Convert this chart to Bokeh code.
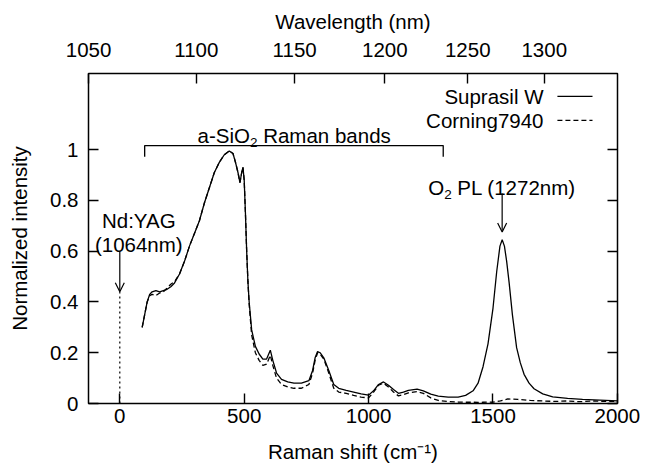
from bokeh.plotting import figure
from bokeh.models import (LinearAxis, FixedTicker, CustomJSTickFormatter, Range1d,
                          Arrow, OpenHead)
from bokeh.embed import file_html
from bokeh.resources import INLINE
from bokeh.core.properties import value

# ---------------- data ----------------
LASER_NM = 1064.0


def nm_to_shift(nm):
    return 1e7 / LASER_NM - 1e7 / nm


suprasil_shift = [90, 100, 110, 120, 130, 145, 160, 175, 190, 205, 220, 240, 260, 280, 300,
                  320, 340, 360, 380, 400, 420, 440, 455, 465, 475, 483, 490, 495, 500, 505,
                  510, 515, 520, 530, 545, 560, 575, 590, 605, 615, 630, 650, 675, 700, 730,
                  760, 775, 785, 795, 805, 820, 840, 860, 880, 910, 940, 970, 1000, 1020,
                  1040, 1060, 1080, 1100, 1120, 1140, 1160, 1195, 1220, 1250, 1280, 1320,
                  1360, 1390, 1420, 1440, 1460, 1480, 1500, 1515, 1528, 1537, 1546, 1555,
                  1565, 1578, 1595, 1610, 1625, 1645, 1665, 1700, 1740, 1800, 1860, 1930, 2000]
suprasil_int = [0.30, 0.35, 0.40, 0.43, 0.44, 0.445, 0.44, 0.445, 0.45, 0.46, 0.475, 0.51,
                0.56, 0.62, 0.67, 0.72, 0.79, 0.85, 0.91, 0.95, 0.98, 0.995, 0.985, 0.95,
                0.91, 0.87, 0.91, 0.93, 0.88, 0.75, 0.60, 0.48, 0.40, 0.29, 0.225, 0.195,
                0.175, 0.175, 0.21, 0.17, 0.12, 0.095, 0.085, 0.08, 0.08, 0.09, 0.13, 0.18,
                0.205, 0.20, 0.18, 0.13, 0.075, 0.06, 0.052, 0.045, 0.038, 0.033, 0.05,
                0.075, 0.085, 0.072, 0.055, 0.04, 0.045, 0.052, 0.057, 0.05, 0.037, 0.029,
                0.025, 0.025, 0.032, 0.05, 0.08, 0.145, 0.235, 0.375, 0.52, 0.62, 0.645,
                0.62, 0.56, 0.475, 0.35, 0.22, 0.16, 0.115, 0.08, 0.058, 0.038, 0.026, 0.02,
                0.016, 0.013, 0.01]

corning_shift = [90, 100, 110, 120, 130, 145, 160, 175, 190, 205, 220, 240, 260, 280, 300,
                 320, 340, 360, 380, 400, 420, 440, 455, 465, 475, 483, 490, 495, 500, 505,
                 510, 515, 520, 530, 545, 560, 575, 590, 605, 615, 630, 650, 675, 700, 730,
                 760, 775, 785, 795, 805, 820, 840, 860, 880, 910, 940, 970, 1000, 1020,
                 1040, 1060, 1080, 1100, 1120, 1140, 1160, 1195, 1220, 1250, 1280, 1320,
                 1360, 1390, 1420, 1440, 1460, 1480, 1500, 1530, 1560, 1600, 1650, 1700,
                 1750, 1800, 1850, 1900, 1950, 2000]
corning_int = [0.30, 0.35, 0.40, 0.425, 0.43, 0.425, 0.435, 0.44, 0.455, 0.47, 0.48, 0.51,
               0.56, 0.62, 0.67, 0.72, 0.79, 0.85, 0.91, 0.95, 0.98, 0.995, 0.985, 0.95,
               0.91, 0.87, 0.91, 0.93, 0.88, 0.75, 0.60, 0.48, 0.39, 0.27, 0.20, 0.17,
               0.15, 0.155, 0.19, 0.15, 0.10, 0.075, 0.065, 0.06, 0.06, 0.075, 0.12, 0.17,
               0.20, 0.195, 0.175, 0.12, 0.06, 0.045, 0.04, 0.032, 0.025, 0.022, 0.045,
               0.072, 0.08, 0.065, 0.045, 0.03, 0.035, 0.042, 0.047, 0.04, 0.022, 0.012,
               0.008, 0.006, 0.005, 0.005, 0.004, 0.005, 0.006, 0.005, 0.01, 0.018, 0.016,
               0.012, 0.01, 0.008, 0.01, 0.007, 0.01, 0.008, 0.009]

x_ticks = [0, 500, 1000, 1500, 2000]
y_ticks = [0, 0.2, 0.4, 0.6, 0.8, 1.0]
wl_ticks = [1050, 1100, 1150, 1200, 1250, 1300]
band_start, band_end = 100, 1300          # a-SiO2 Raman bands bracket
nd_yag_nm = 1064
o2_pl_nm = 1272
series_names = ["Suprasil W", "Corning7940"]

# ---------------- style ----------------
FONT = "Liberation Sans"
FS = "20.5px"
SUB_FS = "13.5px"

x_start = nm_to_shift(wl_ticks[0]) - 0.5
p = figure(width=646, height=469, output_backend="svg", toolbar_location=None,
           x_range=Range1d(x_start, 2000.5), y_range=Range1d(0, 1.3),
           min_border_left=88, min_border_right=29, min_border_top=73,
           min_border_bottom=66,
           x_axis_label="Raman shift (cm⁻¹)", y_axis_label="Normalized intensity")
p.background_fill_color = "white"
p.border_fill_color = "white"
p.outline_line_color = "black"
p.outline_line_width = 1.5
p.grid.visible = False


def style_axis(ax):
    ax.axis_line_color = None
    ax.major_tick_in = 10
    ax.major_tick_out = 0
    ax.major_tick_line_width = 1.4
    ax.major_tick_line_color = "black"
    ax.minor_tick_line_color = None
    ax.major_label_text_font = FONT
    ax.major_label_text_font_size = FS
    ax.major_label_text_color = "black"
    ax.axis_label_text_font = FONT
    ax.axis_label_text_font_size = FS
    ax.axis_label_text_font_style = "normal"
    ax.axis_label_text_color = "black"


xa = p.xaxis[0]
style_axis(xa)
xa.ticker = FixedTicker(ticks=x_ticks)
xa.major_label_standoff = 5
xa.axis_label_standoff = 14

ya = p.yaxis[0]
style_axis(ya)
ya.ticker = FixedTicker(ticks=y_ticks)
ya.formatter = CustomJSTickFormatter(code="return String(Math.round(tick*10)/10);")
ya.major_label_standoff = 10
ya.axis_label_standoff = 16

top = LinearAxis(axis_label="Wavelength (nm)",
                 ticker=FixedTicker(ticks=[nm_to_shift(w) for w in wl_ticks]),
                 formatter=CustomJSTickFormatter(args=dict(laser=LASER_NM),
                                                 code="return (1e7/(1e7/laser - tick)).toFixed(0);"))
style_axis(top)
top.major_label_standoff = 17
top.axis_label_standoff = 7
p.add_layout(top, "above")

right = LinearAxis(ticker=FixedTicker(ticks=y_ticks),
                   formatter=CustomJSTickFormatter(code="return '';"))
style_axis(right)
p.add_layout(right, "right")

# ---------------- curves ----------------
p.line(suprasil_shift, suprasil_int, line_color="black", line_width=1.3)
p.line(corning_shift, corning_int, line_color="black", line_width=1.3, line_dash="5 3")

# ---------------- annotations ----------------
txt = dict(text_font=value(FONT), text_color="black", text_baseline="alphabetic")

# bracket for a-SiO2 Raman bands
p.line([band_start, band_start, band_end, band_end], [0.972, 1.016, 1.016, 0.972],
       line_color="black", line_width=1.3)
band_mid = (band_start + band_end) / 2
p.text(x=[band_mid], y=[1.056], text=["a-SiO"], text_align="right", x_offset=-44,
       text_font_size=value(FS), **txt)
p.text(x=[band_mid], y=[1.056], text=["2"], text_align="left", x_offset=-44, y_offset=7,
       text_font_size=value(SUB_FS), **txt)
p.text(x=[band_mid], y=[1.056], text=["Raman bands"], text_align="left", x_offset=-30.8,
       text_font_size=value(FS), **txt)

# Nd:YAG laser line
nd_x = nm_to_shift(nd_yag_nm)
p.text(x=[nd_x, nd_x], y=[0.722, 0.628], text=["Nd:YAG", "(1064nm)"], text_align="center",
       x_offset=19, text_font_size=value(FS), **txt)
p.add_layout(Arrow(end=OpenHead(size=9, line_width=1.2, line_color="black"),
                   x_start=nd_x, y_start=0.597, x_end=nd_x, y_end=0.44,
                   line_width=1.2, line_color="black"))
p.line([nd_x, nd_x], [0.0, 0.44], line_color="black", line_width=1.2, line_dash="2 3")

# O2 PL
o2_x = nm_to_shift(o2_pl_nm)
p.text(x=[o2_x], y=[0.852], text=["O"], text_align="right", x_offset=-58,
       text_font_size=value(FS), **txt)
p.text(x=[o2_x], y=[0.852], text=["2"], text_align="left", x_offset=-58, y_offset=7,
       text_font_size=value(SUB_FS), **txt)
p.text(x=[o2_x], y=[0.852], text=["PL (1272nm)"], text_align="left", x_offset=-44.8,
       text_font_size=value(FS), **txt)
p.add_layout(Arrow(end=OpenHead(size=9, line_width=1.2, line_color="black"),
                   x_start=o2_x, y_start=0.827, x_end=o2_x, y_end=0.676,
                   line_width=1.2, line_color="black"))

# legend (key on the right, gnuplot style)
leg_y = [1.21, 1.115]
p.text(x=[1703, 1703], y=leg_y, text=series_names, text_align="right",
       text_baseline="middle", text_font=value(FONT), text_font_size=value(FS),
       text_color="black")
p.segment(x0=[1759], y0=[leg_y[0]], x1=[1900], y1=[leg_y[0]], line_color="black",
          line_width=1.2)
p.segment(x0=[1759], y0=[leg_y[1]], x1=[1900], y1=[leg_y[1]], line_color="black",
          line_width=1.2, line_dash="5 3")

open("out.html", "w").write(file_html(p, INLINE))
